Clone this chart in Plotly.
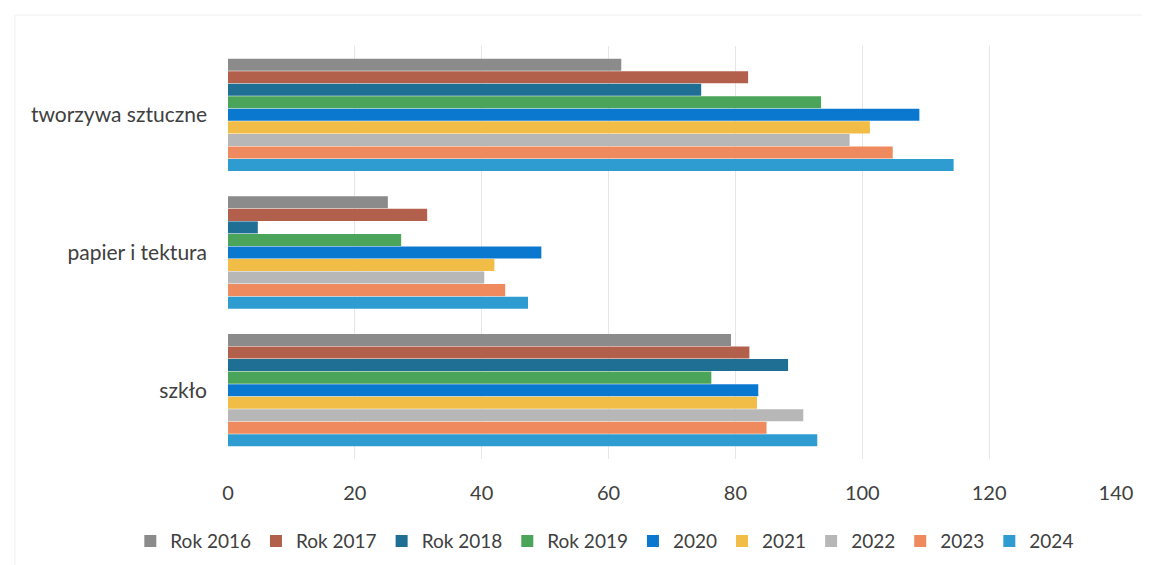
import plotly.graph_objects as go

categories = ["tworzywa sztuczne", "papier i tektura", "szkło"]
series_names = ["Rok 2016", "Rok 2017", "Rok 2018", "Rok 2019", "2020", "2021", "2022", "2023", "2024"]

rok_2016 = [62, 25.2, 79.3]
rok_2017 = [82, 31.4, 82.2]
rok_2018 = [74.6, 4.7, 88.3]
rok_2019 = [93.5, 27.3, 76.2]
y_2020 = [109, 49.4, 83.6]
y_2021 = [101.2, 42.0, 83.4]
y_2022 = [98, 40.4, 90.7]
y_2023 = [104.8, 43.7, 84.9]
y_2024 = [114.4, 47.3, 92.9]

series_values = [rok_2016, rok_2017, rok_2018, rok_2019, y_2020, y_2021, y_2022, y_2023, y_2024]
colors = ["#8b8b8b", "#b2604b", "#1f6f95", "#4aa55a", "#0b78d0", "#f2bd46", "#b7b7b7", "#ee8a5d", "#2f9cd1"]

x_ticks = [0, 20, 40, 60, 80, 100, 120, 140]

fig = go.Figure()
for name, vals, col in zip(series_names, series_values, colors):
    fig.add_trace(go.Bar(
        y=categories, x=vals, name=name, orientation="h",
        marker=dict(color=col, line=dict(width=0)),
    ))

font_family = "Lato, 'Open Sans', 'DejaVu Sans', sans-serif"

fig.update_layout(
    width=1150, height=565,
    margin=dict(l=220, r=42, t=38, b=114, autoexpand=False),
    paper_bgcolor="white", plot_bgcolor="white",
    barmode="group", bargap=0.18, bargroupgap=0.04,
    font=dict(family=font_family, color="#404040"),
    showlegend=True,
    legend=dict(
        orientation="h",
        x=-0.11, xanchor="left", y=-0.199, yanchor="middle",
        font=dict(size=19, color="#404040"), traceorder="normal",
        itemwidth=30, tracegroupgap=0,
    ),
    xaxis=dict(
        range=[0, 140], tickvals=x_ticks, ticktext=[str(v) for v in x_ticks],
        showgrid=True, gridcolor="#e6e6e6", gridwidth=1,
        zeroline=False, showline=False, ticks="",
        tickfont=dict(size=20, color="#404040"),
        ticklabelstandoff=20, fixedrange=True,
    ),
    yaxis=dict(
        categoryorder="array", categoryarray=categories,
        autorange="reversed", showgrid=False, zeroline=False,
        showline=False, ticks="",
        tickfont=dict(size=21, color="#404040"),
        ticklabelstandoff=20, fixedrange=True,
    ),
    shapes=[dict(
        type="rect", xref="paper", yref="paper",
        x0=-0.24, x1=1.035, y0=-0.385, y1=1.075,
        line=dict(color="#f0f0f0", width=1), layer="below",
    )],
)

fig.write_html("out.html")
